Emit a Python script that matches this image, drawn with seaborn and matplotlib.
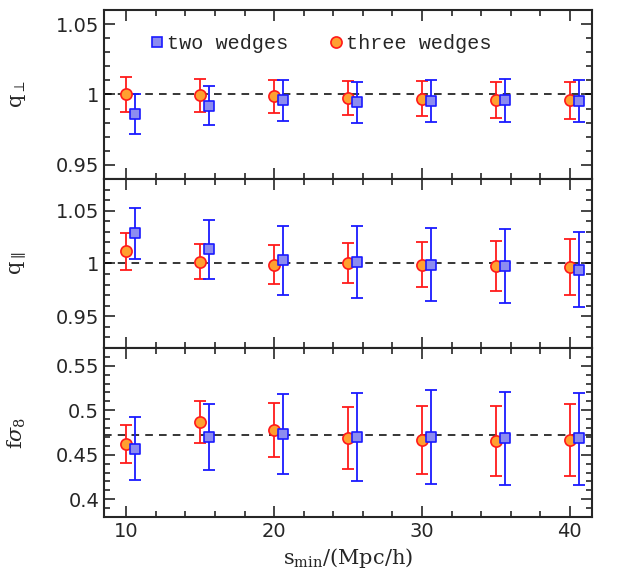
import numpy as np
import pandas as pd
import matplotlib
matplotlib.use("Agg")
import matplotlib.pyplot as plt
from matplotlib.ticker import MultipleLocator, FixedLocator
from matplotlib.lines import Line2D
import seaborn as sns

# ---------------- data ----------------
s_min = [10, 15, 20, 25, 30, 35, 40]
blue_shift = 0.6

# q_perp
qperp_three = [1.000, 0.9995, 0.9988, 0.9974, 0.9969, 0.9960, 0.9960]
qperp_three_lo = [0.9878, 0.9873, 0.9869, 0.9852, 0.9845, 0.9831, 0.9826]
qperp_three_hi = [1.0127, 1.0113, 1.0106, 1.0099, 1.0099, 1.0089, 1.0092]
qperp_two = [0.9864, 0.9920, 0.9958, 0.9946, 0.9955, 0.9958, 0.9955]
qperp_two_lo = [0.9720, 0.9782, 0.9815, 0.9798, 0.9808, 0.9805, 0.9803]
qperp_two_hi = [1.0000, 1.0059, 1.0101, 1.0092, 1.0103, 1.0110, 1.0106]

# q_par
qpar_three = [1.0120, 1.0016, 0.9987, 1.0003, 0.9990, 0.9978, 0.9965]
qpar_three_lo = [0.9943, 0.9851, 0.9807, 0.9813, 0.9775, 0.9737, 0.9706]
qpar_three_hi = [1.0288, 1.0184, 1.0171, 1.0193, 1.0206, 1.0215, 1.0228]
qpar_two = [1.0285, 1.0133, 1.0032, 1.0013, 0.9987, 0.9978, 0.9943]
qpar_two_lo = [1.0047, 0.9851, 0.9706, 0.9671, 0.9642, 0.9630, 0.9592]
qpar_two_hi = [1.0522, 1.0412, 1.0355, 1.0351, 1.0336, 1.0329, 1.0298]

# f sigma_8
fs8_three = [0.4623, 0.4870, 0.4780, 0.4690, 0.4664, 0.4653, 0.4664]
fs8_three_lo = [0.4407, 0.4631, 0.4474, 0.4344, 0.4284, 0.4258, 0.4258]
fs8_three_hi = [0.4840, 0.5100, 0.5082, 0.5040, 0.5048, 0.5048, 0.5070]
fs8_two = [0.4567, 0.4705, 0.4728, 0.4705, 0.4705, 0.4687, 0.4683]
fs8_two_lo = [0.4217, 0.4333, 0.4284, 0.4206, 0.4176, 0.4161, 0.4165]
fs8_two_hi = [0.4922, 0.5070, 0.5186, 0.5198, 0.5231, 0.5205, 0.5198]

ref_lines = [1.0, 1.0, 0.4724]
ylabels = [r"$\mathrm{q}_{\perp}$", r"$\mathrm{q}_{\parallel}$", r"$\mathrm{f}\sigma_8$"]
ylims = [(0.94, 1.06), (0.92, 1.08), (0.38, 0.57)]
yticks = [[0.95, 1.0, 1.05], [0.95, 1.0, 1.05], [0.4, 0.45, 0.5, 0.55]]
yticklabels = [["0.95", "1", "1.05"], ["0.95", "1", "1.05"], ["0.4", "0.45", "0.5", "0.55"]]

panels = [
    (qperp_three, qperp_three_lo, qperp_three_hi, qperp_two, qperp_two_lo, qperp_two_hi),
    (qpar_three, qpar_three_lo, qpar_three_hi, qpar_two, qpar_two_lo, qpar_two_hi),
    (fs8_three, fs8_three_lo, fs8_three_hi, fs8_two, fs8_two_lo, fs8_two_hi),
]

# ---------------- style ----------------
sns.set_style("ticks")
plt.rcParams["font.family"] = ["DejaVu Sans"]
plt.rcParams["mathtext.fontset"] = "dejavuserif"

RED = "#ff1a1a"
ORANGE = "#ffa030"
BLUE = "#1a1aff"
LBLUE = "#8c8cf0"

fig, axes = plt.subplots(3, 1, figsize=(6.17, 5.86), dpi=100, sharex=True)
fig.subplots_adjust(left=0.1686, right=0.9595, top=0.983, bottom=0.1177, hspace=0)

for i, (ax, p) in enumerate(zip(axes, panels)):
    v3, lo3, hi3, v2, lo2, hi2 = p
    x3 = np.array(s_min, dtype=float)
    x2 = x3 + blue_shift
    df = pd.DataFrame({
        "x": np.concatenate([x3, x2]),
        "y": np.concatenate([v3, v2]),
        "set": ["three wedges"] * len(x3) + ["two wedges"] * len(x2),
    })
    ax.axhline(ref_lines[i], color="black", ls=(0, (5, 4)), lw=1.1, zorder=1)
    ax.errorbar(x3, v3, yerr=[np.array(v3) - np.array(lo3), np.array(hi3) - np.array(v3)],
                fmt="none", ecolor=RED, elinewidth=1.3, capsize=4, capthick=1.3, zorder=2)
    ax.errorbar(x2, v2, yerr=[np.array(v2) - np.array(lo2), np.array(hi2) - np.array(v2)],
                fmt="none", ecolor=BLUE, elinewidth=1.3, capsize=4, capthick=1.3, zorder=2)
    sns.scatterplot(data=df[df["set"] == "three wedges"], x="x", y="y", ax=ax,
                    marker="o", s=65, color=ORANGE, edgecolor=RED, linewidth=1.2,
                    legend=False, zorder=3)
    sns.scatterplot(data=df[df["set"] == "two wedges"], x="x", y="y", ax=ax,
                    marker="s", s=45, color=LBLUE, edgecolor=BLUE, linewidth=1.2,
                    legend=False, zorder=3)
    ax.set_xlim(8.5, 41.5)
    ax.set_ylim(*ylims[i])
    ax.yaxis.set_major_locator(FixedLocator(yticks[i]))
    ax.set_yticklabels(yticklabels[i])
    ax.yaxis.set_minor_locator(MultipleLocator(0.01))
    ax.xaxis.set_major_locator(MultipleLocator(10))
    ax.xaxis.set_minor_locator(MultipleLocator(2))
    ax.tick_params(which="both", direction="in", top=True, right=True, width=1.2)
    ax.tick_params(which="major", length=8, labelsize=14)
    ax.tick_params(which="minor", length=4)
    for sp in ax.spines.values():
        sp.set_linewidth(1.5)
    ax.set_xlabel("")
    ax.set_ylabel(ylabels[i], fontsize=15)
    ax.yaxis.set_label_coords(-0.155, 0.5)

axes[-1].set_xlabel(r"$\mathrm{s_{min}/(Mpc/h)}$", fontsize=15)
axes[-1].set_xticks([10, 20, 30, 40])
axes[-1].set_xticklabels(["10", "20", "30", "40"])

handles = [
    Line2D([], [], ls="none", marker="s", ms=6.5, mfc=LBLUE, mec=BLUE, mew=1.2),
    Line2D([], [], ls="none", marker="o", ms=8, mfc=ORANGE, mec=RED, mew=1.2),
]
axes[0].legend(handles, ["two wedges", "three wedges"], loc="upper left",
               bbox_to_anchor=(0.05, 0.965), ncol=2, frameon=False,
               handletextpad=0.0, columnspacing=1.9, handlelength=1.0,
               prop={"family": "Liberation Mono", "size": 14.5})

fig.savefig("out.png", dpi=100)
